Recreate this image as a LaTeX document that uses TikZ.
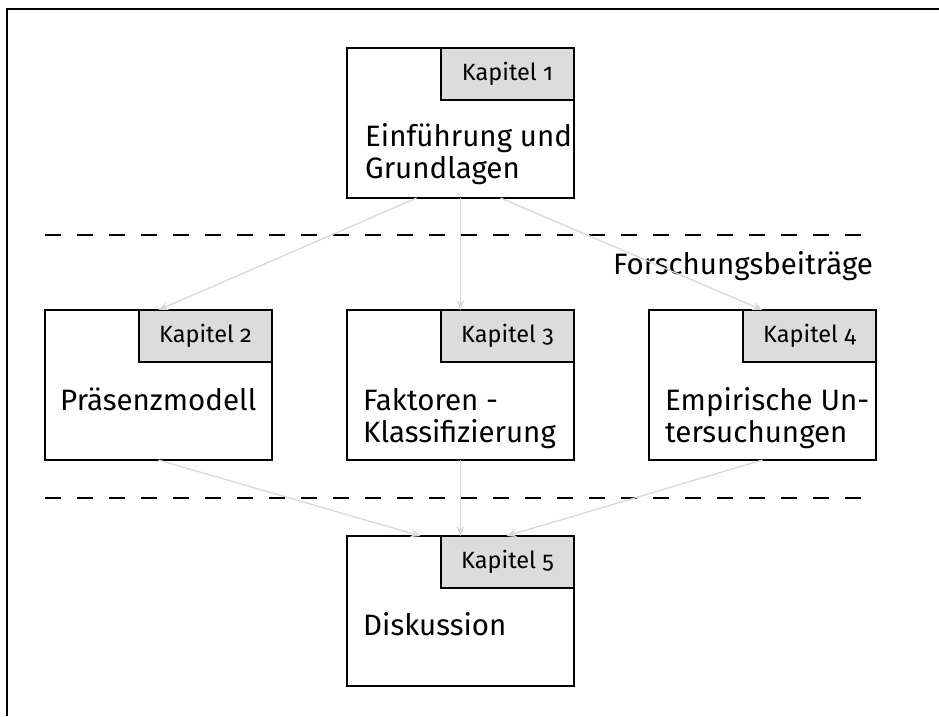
\documentclass[tikz,border=0pt]{standalone}
\usepackage{fontspec}
\setmainfont{Fira Sans}[Numbers=OldStyle]
\usetikzlibrary{arrows.meta,calc}
\definecolor{tabgray}{RGB}{220,220,220}
\definecolor{flowgray}{RGB}{216,216,216}
\begin{document}
\begin{tikzpicture}[x=1pt,y=-1pt,
  box/.style={draw=black, line width=1.2pt, minimum width=227pt, minimum height=150pt, inner sep=0pt, outer sep=0pt, anchor=north west},
  tab/.style={draw=black, fill=tabgray, line width=1.2pt, minimum width=133pt, minimum height=52pt, inner sep=0pt, outer sep=0pt, anchor=north east, font=\fontsize{23.5}{26}\selectfont},
  lbl/.style={anchor=base west, inner sep=0pt, align=left, font=\fontsize{29.5}{32}\selectfont},
  flow/.style={draw=flowgray, line width=1.3pt, -{Stealth[length=10pt,width=8pt]}},
  sep/.style={line width=1.5pt, dash pattern=on 16pt off 16pt}
]
\useasboundingbox (0,0) rectangle (939,716);
% frame
\draw[line width=2pt] (7,716) -- (7,9) -- (939,9);
% separators
\coordinate (s1a) at (45,235); \coordinate (s1b) at (861,235);
\coordinate (s2a) at (45,498); \coordinate (s2b) at (861,498);
\draw[sep] (s1a) -- (s1b);
\draw[sep] (s2a) -- (s2b);
\node[anchor=base west, inner sep=0pt, font=\fontsize{29.5}{32}\selectfont] (fb) at (613,274) {Forschungsbeiträge};
% boxes
\node[box] (k1) at (347,48) {};
\node[box] (k2) at (45,310) {};
\node[box] (k3) at (347,310) {};
\node[box] (k4) at (649,310) {};
\node[box] (k5) at (347,536) {};
% tabs
\node[tab] (t1) at (k1.north east) {Kapitel 1};
\node[tab] (t2) at (k2.north east) {Kapitel 2};
\node[tab] (t3) at (k3.north east) {Kapitel 3};
\node[tab] (t4) at (k4.north east) {Kapitel 4};
\node[tab] (t5) at (k5.north east) {Kapitel 5};
% labels (base = baseline of last line)
\node[lbl] (l1) at ($(k1.north west)+(18,130)$) {Einführung und\\Grundlagen};
\node[lbl] (l2) at ($(k2.north west)+(15,100)$) {Präsenzmodell};
\node[lbl] (l3) at ($(k3.north west)+(16,132)$) {Faktoren -\\Klassifizierung};
\node[lbl] (l4) at ($(k4.north west)+(16,132)$) {Empirische Un-\\tersuchungen};
\node[lbl] (l5) at ($(k5.north west)+(16,99)$) {Diskussion};
% connectors
\draw[flow] ($(k1.south)+(-44,0)$) -- (k2.north);
\draw[flow] (k1.south) -- (k3.north);
\draw[flow] ($(k1.south)+(40,0)$) -- (k4.north);
\draw[flow] (k2.south) -- ($(k5.north)+(-40,0)$);
\draw[flow] (k3.south) -- (k5.north);
\draw[flow] (k4.south) -- ($(k5.north)+(46,0)$);
\end{tikzpicture}
\end{document}
